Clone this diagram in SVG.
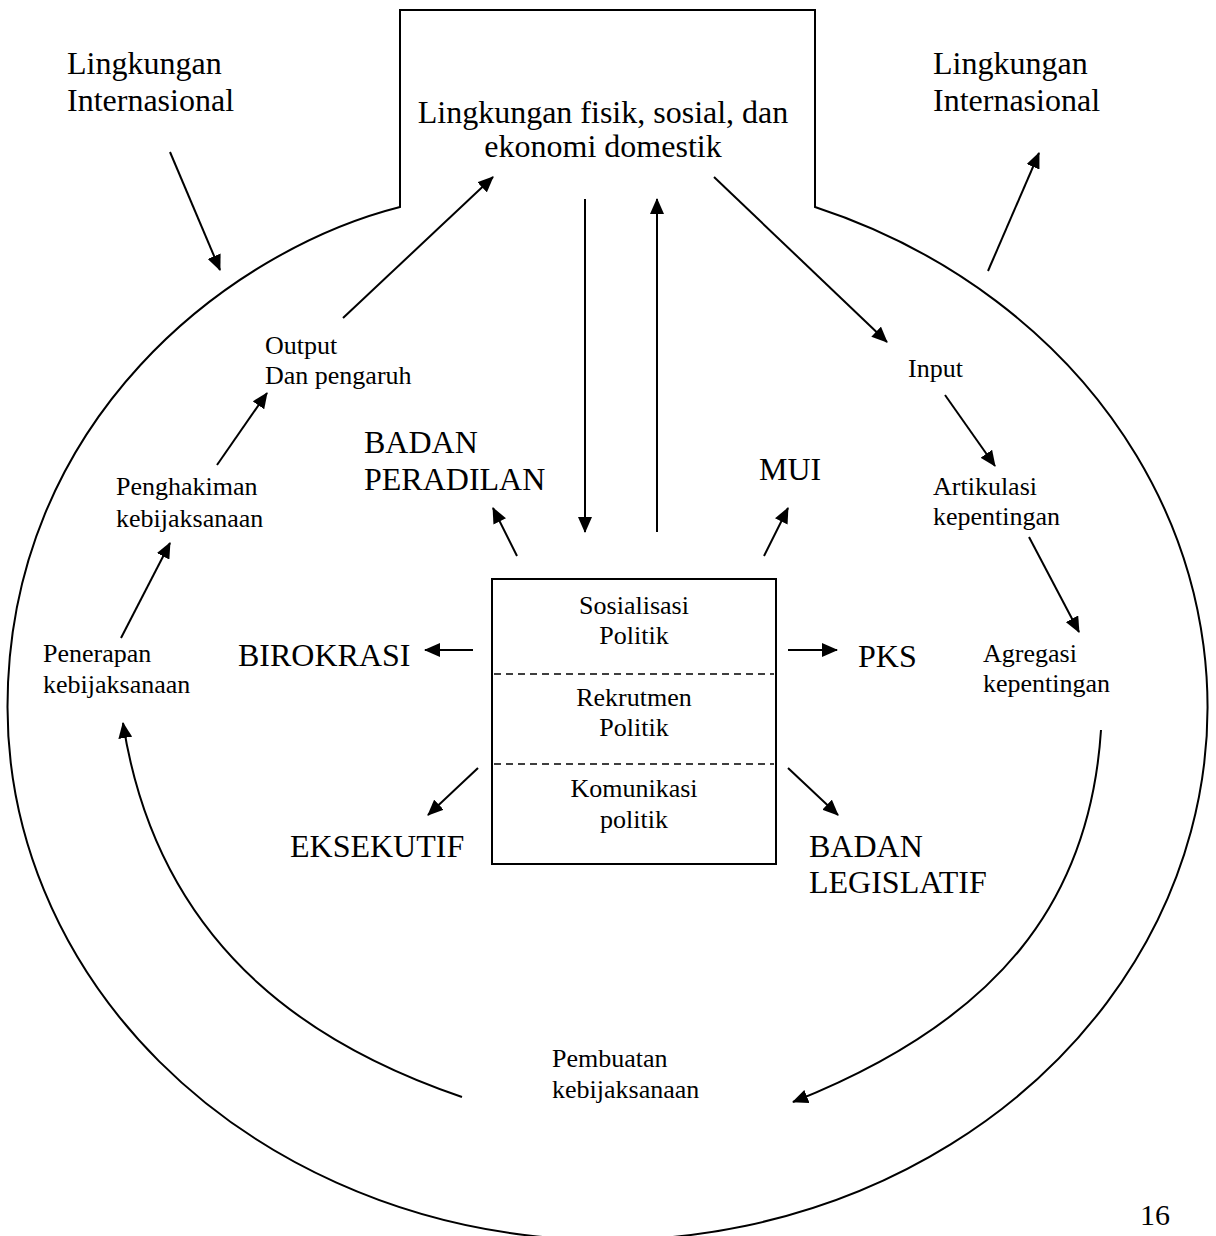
<svg xmlns="http://www.w3.org/2000/svg" width="1216" height="1236" viewBox="0 0 1216 1236">
<defs>
<marker id="ah" viewBox="0 0 16 14" refX="15" refY="7" markerWidth="16" markerHeight="14" markerUnits="userSpaceOnUse" orient="auto">
<path d="M0,0 L16,7 L0,14 z" fill="#000"/>
</marker>
<style>
text{font-family:"Liberation Serif","Times New Roman",serif;fill:#000}
.big{font-size:32px}
.sm{font-size:26px}
.mid{text-anchor:middle}
.ln{fill:none;stroke:#000;stroke-width:2}
.ar{fill:none;stroke:#000;stroke-width:2;marker-end:url(#ah)}
.dash{stroke:#000;stroke-width:1.6;stroke-dasharray:7 5}
</style>
</defs>
<rect width="1216" height="1236" fill="#fff"/>

<g id="system-boundary">
<path class="ln" d="M815 207 A600 533 0 1 1 7.5 707 C7.5 420 230 250 400 207 L400 10 L815 10 Z"/>
</g>

<g id="domestic">
<text class="big mid" x="603" y="123">Lingkungan fisik, sosial, dan</text>
<text class="big mid" x="603" y="157">ekonomi domestik</text>
</g>

<g id="intl-left">
<text class="big" x="67" y="74">Lingkungan</text>
<text class="big" x="67" y="111">Internasional</text>
</g>

<g id="intl-right">
<text class="big" x="933" y="74">Lingkungan</text>
<text class="big" x="933" y="111">Internasional</text>
</g>

<g id="output">
<text class="sm" x="265" y="354">Output</text>
<text class="sm" x="265" y="384">Dan pengaruh</text>
</g>

<g id="penghakiman">
<text class="sm" x="116" y="495">Penghakiman</text>
<text class="sm" x="116" y="527">kebijaksanaan</text>
</g>

<g id="penerapan">
<text class="sm" x="43" y="662">Penerapan</text>
<text class="sm" x="43" y="693">kebijaksanaan</text>
</g>

<g id="input">
<text class="sm" x="908" y="377">Input</text>
</g>

<g id="artikulasi">
<text class="sm" x="933" y="495">Artikulasi</text>
<text class="sm" x="933" y="525">kepentingan</text>
</g>

<g id="agregasi">
<text class="sm" x="983" y="662">Agregasi</text>
<text class="sm" x="983" y="692">kepentingan</text>
</g>

<g id="pembuatan">
<text class="sm" x="552" y="1067">Pembuatan</text>
<text class="sm" x="552" y="1098">kebijaksanaan</text>
</g>

<g id="badan-peradilan">
<text class="big" x="364" y="453">BADAN</text>
<text class="big" x="364" y="490">PERADILAN</text>
</g>

<g id="mui">
<text class="big" x="759" y="480">MUI</text>
</g>

<g id="birokrasi">
<text class="big" x="238" y="666">BIROKRASI</text>
</g>

<g id="pks">
<text class="big" x="858" y="667">PKS</text>
</g>

<g id="eksekutif">
<text class="big" x="290" y="857">EKSEKUTIF</text>
</g>

<g id="badan-legislatif">
<text class="big" x="809" y="857">BADAN</text>
<text class="big" x="809" y="893">LEGISLATIF</text>
</g>

<g id="political-functions">
<rect class="ln" x="492" y="579" width="284" height="285"/>
<line class="dash" x1="494" y1="674" x2="774" y2="674"/>
<line class="dash" x1="494" y1="764" x2="774" y2="764"/>
<text class="sm mid" x="634" y="614">Sosialisasi</text>
<text class="sm mid" x="634" y="644">Politik</text>
<text class="sm mid" x="634" y="706">Rekrutmen</text>
<text class="sm mid" x="634" y="736">Politik</text>
<text class="sm mid" x="634" y="797">Komunikasi</text>
<text class="sm mid" x="634" y="828">politik</text>
</g>

<g id="page-number">
<text x="1140" y="1225" style="font-size:30px">16</text>
</g>

<g id="connectors">
<line class="ar" x1="170" y1="152" x2="220" y2="270"/>
<line class="ar" x1="988" y1="271" x2="1039" y2="153"/>
<line class="ar" x1="343" y1="318" x2="493" y2="177"/>
<line class="ar" x1="585" y1="199" x2="585" y2="532"/>
<line class="ar" x1="657" y1="532" x2="657" y2="199"/>
<line class="ar" x1="714" y1="177" x2="887" y2="342"/>
<line class="ar" x1="945" y1="395" x2="995" y2="466"/>
<line class="ar" x1="1029" y1="537" x2="1079" y2="632"/>
<line class="ar" x1="217" y1="465" x2="267" y2="393"/>
<line class="ar" x1="121" y1="638" x2="170" y2="543"/>
<line class="ar" x1="517" y1="556" x2="493" y2="508"/>
<line class="ar" x1="764" y1="556" x2="788" y2="508"/>
<line class="ar" x1="473" y1="650" x2="425" y2="650"/>
<line class="ar" x1="788" y1="650" x2="837" y2="650"/>
<line class="ar" x1="478" y1="768" x2="428" y2="815"/>
<line class="ar" x1="788" y1="768" x2="838" y2="815"/>
<path class="ar" d="M1101 730 C1090 900 1000 1020 793 1102"/>
<path class="ar" d="M462 1097 C330 1052 160 960 123 723"/>
</g>
</svg>
